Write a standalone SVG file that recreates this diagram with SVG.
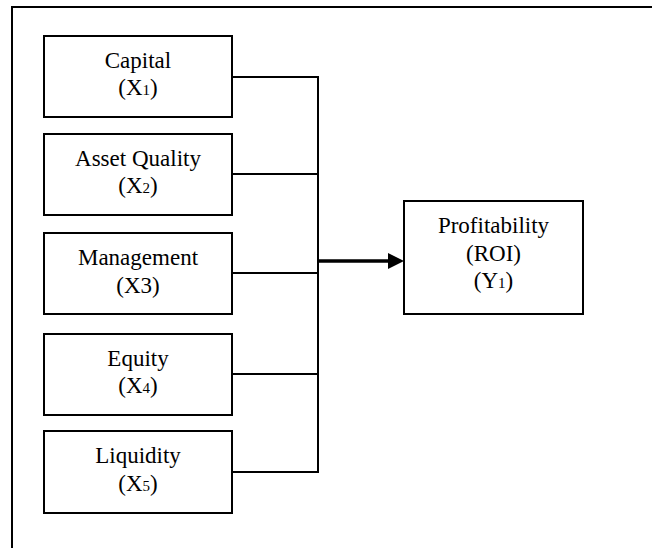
<svg xmlns="http://www.w3.org/2000/svg" width="652" height="548" viewBox="0 0 652 548">
<style>
.frame{fill:none;stroke:#000;stroke-width:2}
.box{fill:#fff;stroke:#000;stroke-width:2}
.conn{fill:none;stroke:#000;stroke-width:2}
.main{fill:none;stroke:#000;stroke-width:3.5}
.t{font-family:'Liberation Serif','DejaVu Serif',serif;font-size:23px;fill:#000;text-anchor:middle}
.sub{font-size:15px}
</style>
<path class="frame" d="M12,548 V7 H652"/>
<g id="capital">
<rect class="box" x="44" y="36" width="188" height="81"/>
<text class="t" x="138" y="68">Capital</text>
<text class="t" x="138" y="95">(X<tspan class="sub">1</tspan>)</text>
</g>
<g id="asset-quality">
<rect class="box" x="44" y="134" width="188" height="81"/>
<text class="t" x="138" y="166">Asset Quality</text>
<text class="t" x="138" y="193">(X<tspan class="sub">2</tspan>)</text>
</g>
<g id="management">
<rect class="box" x="44" y="233" width="188" height="81"/>
<text class="t" x="138" y="265">Management</text>
<text class="t" x="138" y="293">(X3)</text>
</g>
<g id="equity">
<rect class="box" x="44" y="334" width="188" height="81"/>
<text class="t" x="138" y="366">Equity</text>
<text class="t" x="138" y="393">(X<tspan class="sub">4</tspan>)</text>
</g>
<g id="liquidity">
<rect class="box" x="44" y="431" width="188" height="82"/>
<text class="t" x="138" y="463">Liquidity</text>
<text class="t" x="138" y="491">(X<tspan class="sub">5</tspan>)</text>
</g>
<g id="profitability">
<rect class="box" x="404" y="201" width="179" height="113"/>
<text class="t" x="493.5" y="233">Profitability</text>
<text class="t" x="493.5" y="261">(ROI)</text>
<text class="t" x="493.5" y="288">(Y<tspan class="sub">1</tspan>)</text>
</g>
<g id="connectors">
<path class="conn" d="M232,77 H318 V472 H232"/>
<path class="conn" d="M232,174 H318"/>
<path class="conn" d="M232,273 H318"/>
<path class="conn" d="M232,374 H318"/>
<path class="main" d="M318,261 H390"/>
<polygon points="388,253 404,261 388,269" fill="#000"/>
</g>
</svg>
